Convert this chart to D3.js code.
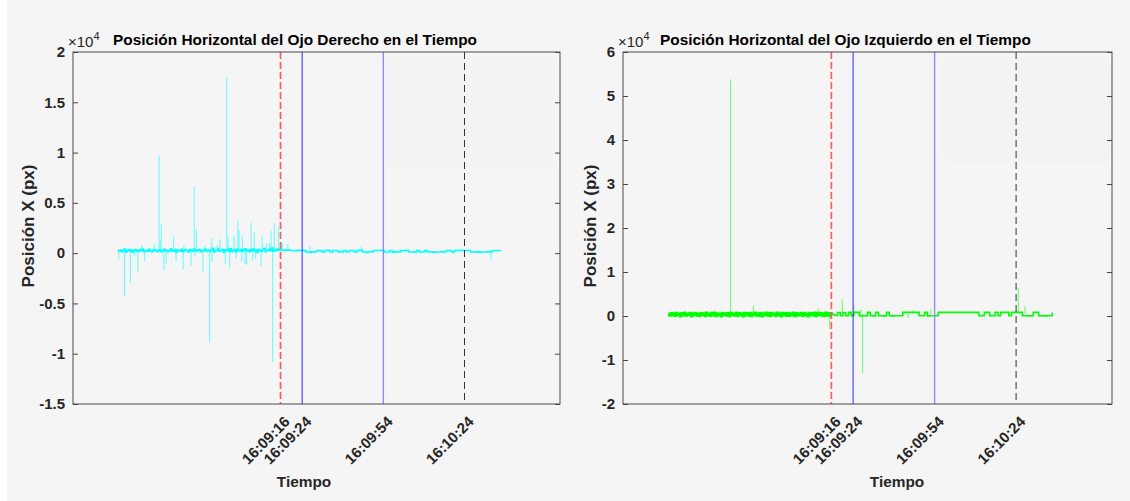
<!DOCTYPE html>
<html><head><meta charset="utf-8">
<script src="https://cdn.jsdelivr.net/npm/d3@7"></script>
<style>body{margin:0;background:#fff}svg{display:block}</style>
</head><body><svg id="c" width="1130" height="501"></svg>
<script>
// ---------- DATA (times in seconds after 16:08:00) ----------
const eventLabels = ["16:09:16", "16:09:24", "16:09:54", "16:10:24"];
const eventTimes = [76.7, 84.7, 114.7, 144.7];

const yTicksDer = [-15000, -10000, -5000, 0, 5000, 10000, 15000, 20000];
const yTickLabelsDer = ["-1.5", "-1", "-0.5", "0", "0.5", "1", "1.5", "2"];
const yTicksIzq = [-20000, -10000, 0, 10000, 20000, 30000, 40000, 50000, 60000];
const yTickLabelsIzq = ["-2", "-1", "0", "1", "2", "3", "4", "5", "6"];

// Right eye (cyan): dense band before the first event, sampled every 0.5 s from 16.5 s
const derPreStart = 16.5, derPreStep = 0.5;
const derPre = [
 260,180,320,150,290,400,120,270,340,200,
 310,90,280,360,230,170,330,260,410,140,
 250,300,190,380,220,110,290,350,240,170,
 320,280,130,260,390,210,300,160,270,440,
 180,230,350,100,310,270,200,380,150,290,
 330,240,120,360,260,190,420,280,170,300,
 350,140,270,230,390,200,310,260,160,340,
 480,120,300,250,410,180,270,350,90,320,
 240,380,200,450,150,290,330,110,400,260,
 210,370,170,300,440,230,280,130,360,250,
 420,190,310,80,390,270,200,350,460,150,
 300,260,380,220,500,180,330,270,410,300,
 350,280];
// after, sampled every 1 s from 78 s
const derPostStart = 78, derPostStep = 1;
const derPost = [
 300,330,260,270,250,280,260,270,120,100,130,110,270,260,110,270,280,120,260,270,
 110,130,270,120,260,270,110,260,280,120,100,130,110,270,260,270,280,120,110,270,
 100,130,110,260,270,280,120,110,130,260,110,120,270,110,130,100,120,110,130,120,
 270,260,110,270,260,280,270,260,270,120,110,130,100,120,110,130,120,270,260,270,280];
// spikes (time s, value px)
const derSpikeT = [16.9,19.0,21.2,22.7,24.0,25.4,26.5,30.0,31.8,32.2,32.6,33.6,34.4,37.2,38.1,40.7,41.0,43.6,
  44.8,45.1,45.6,48.0,48.8,50.5,51.3,51.4,53.3,54.3,56.3,56.8,57.3,57.9,59.5,60.3,60.9,61.4,62.4,62.6,63.6,
  64.2,65.8,66.4,67.0,67.5,69.5,69.9,71.4,72.6,73.2,73.8,74.4,75.9,76.9,77.4,79.4,87.6,106.7,154.5];
const derSpikeV = [-630,-4270,-2950,-370,-1860,800,-800,960,9670,1200,2880,-1690,-1030,1690,-830,-1620,730,-1290,
  6630,-370,2350,-1960,700,-8920,1490,-860,770,1390,-1090,17460,1690,-1490,1790,-530,3250,2290,-860,1720,-1090,
  -1160,3010,-700,2020,-560,-1290,1620,960,1020,2220,-10800,2950,2620,1120,1020,900,700,630,-760];
const derRef = 260;

// Left eye (green)
const izqPreStart = 16.5, izqPreStep = 0.5;
const izqPre = [
 420,80,650,150,560,20,700,250,480,-50,
 620,180,750,100,520,300,690,-80,560,230,
 710,120,480,40,660,280,590,-20,740,160,
 530,60,680,210,770,0,600,140,450,-60,
 720,260,580,90,650,-30,700,190,520,110,
 760,30,610,240,540,-70,690,170,630,80,
 710,-10,560,220,740,130,600,50,680,-40,
 570,200,730,100,640,10,700,260,520,60,
 750,150,590,-50,680,230,620,70,710,20,
 560,190,740,-20,650,110,600,270,690,40,
 720,160,530,-60,700,210,640,90,760,0,
 610,250,680,120,570,-30,730,180,660,70,
 600,300];
const izqPostStart = 78, izqPostStep = 1;
const izqPost = [
 100,780,60,800,40,820,80,820,820,30,60,40,820,50,30,820,40,60,30,820,
 50,30,60,40,50,820,820,820,830,820,820,40,60,820,30,50,40,60,820,820,
 830,820,820,820,830,820,820,820,830,820,820,820,820,40,60,820,820,50,40,820,
 50,820,820,820,60,820,820,820,820,40,60,30,50,820,820,40,60,30,50,40,820];
const izqSpikeT = [39.6,48.0,71.9,76.1,80.7,85.0,87.5,88.2,105.0,106.9,113.3,145.5,148.0];
const izqSpikeV = [53800,2340,1750,-3020,3800,2340,1520,-13000,-520,1360,1590,6430,2270];
const izqRef = 500;

// ---------- DRAWING ----------
const svg = d3.select("#c");
const BG = "#f5f5f5";
svg.append("rect").attr("x", 7).attr("y", 0).attr("width", 1123).attr("height", 501).attr("fill", BG);

const base = new Date(2000, 0, 1, 16, 8, 0).getTime();
const toDate = s => new Date(base + s * 1000);

const panels = [
  {x0: 73, x1: 560, yDom: [-15000, 20000], ticks: yTicksDer, tickLabels: yTickLabelsDer,
   pre: derPre, preStart: derPreStart, preStep: derPreStep, post: derPost, postStart: derPostStart, postStep: derPostStep,
   spT: derSpikeT, spV: derSpikeV, ref: derRef, color: "#00ffff", preW: 1.5, postW: 1.6,
   title: "Posición Horizontal del Ojo Derecho en el Tiempo", titleX: 113, expX: 68, ylabX: 28, xlabX: 304,
   legend: [383, 55, 172, 112]},
  {x0: 623, x1: 1112, yDom: [-20000, 60000], ticks: yTicksIzq, tickLabels: yTickLabelsIzq,
   pre: izqPre, preStart: izqPreStart, preStep: izqPreStep, post: izqPost, postStart: izqPostStart, postStep: izqPostStep,
   spT: izqSpikeT, spV: izqSpikeV, ref: izqRef, color: "#00ff00", preW: 2.4, postW: 1.6,
   title: "Posición Horizontal del Ojo Izquierdo en el Tiempo", titleX: 660, expX: 618, ylabX: 590, xlabX: 897,
   legend: [940, 57, 172, 106]}
];
const yTop = 52, yBot = 404;
const lineStyles = [
  {stroke: "#ff5b5b", w: 1.7, dash: "7,3"},
  {stroke: "#2a2aff", w: 1, dash: null},
  {stroke: "#8c8cff", w: 1.4, dash: null},
  {stroke: "#333333", w: 1, dash: "7,4"}
];
const FONT = "'Liberation Sans', Arial, Helvetica, sans-serif";

panels.forEach((p, pi) => {
  const x = d3.scaleTime().domain([toDate(0), toDate(180)]).range([p.x0, p.x1]);
  const y = d3.scaleLinear().domain(p.yDom).range([yBot, yTop]);
  const g = svg.append("g");

  // faint legend remnant
  g.append("rect").attr("x", p.legend[0]).attr("y", p.legend[1]).attr("width", p.legend[2]).attr("height", p.legend[3])
    .attr("rx", 14).attr("fill", "#f3f3f3");

  const clipId = "clip" + pi;
  svg.append("clipPath").attr("id", clipId).append("rect")
    .attr("x", p.x0).attr("y", yTop).attr("width", p.x1 - p.x0).attr("height", yBot - yTop);
  const plot = g.append("g").attr("clip-path", `url(#${clipId})`);

  // series
  const prePts = p.pre.map((v, i) => [p.preStart + i * p.preStep, v]);
  const postPts = [prePts[prePts.length - 1]].concat(p.post.map((v, i) => [p.postStart + i * p.postStep, v]));
  const line = d3.line().x(d => x(toDate(d[0]))).y(d => y(d[1]));
  const stepLine = d3.line().curve(d3.curveStepAfter).x(d => x(toDate(d[0]))).y(d => y(d[1]));
  plot.append("path").datum(prePts).attr("d", stepLine).attr("fill", "none")
    .attr("stroke", p.color).attr("stroke-width", p.preW);
  plot.append("path").datum(postPts).attr("d", stepLine).attr("fill", "none")
    .attr("stroke", p.color).attr("stroke-width", p.postW);
  plot.selectAll("path.sp").data(p.spT.map((t, i) => [[t, p.ref], [t, p.spV[i]]])).join("path")
    .attr("class", "sp").attr("d", line).attr("fill", "none")
    .attr("stroke", p.color).attr("stroke-width", 1.1).attr("stroke-opacity", 0.55);

  // event lines
  eventTimes.forEach((t, i) => {
    const s = lineStyles[i];
    plot.append("line").attr("x1", x(toDate(t))).attr("x2", x(toDate(t))).attr("y1", yTop).attr("y2", yBot)
      .attr("stroke", s.stroke).attr("stroke-width", s.w).attr("stroke-dasharray", s.dash);
  });

  // axes
  const yl = g.append("g").attr("transform", `translate(${p.x0},0)`)
    .call(d3.axisLeft(y).tickValues(p.ticks).tickFormat((d, i) => p.tickLabels[i]).tickSize(-5).tickPadding(8));
  const yr = g.append("g").attr("transform", `translate(${p.x1},0)`)
    .call(d3.axisRight(y).tickValues(p.ticks).tickFormat("").tickSize(-5));
  [yl, yr].forEach(a => {
    a.select(".domain").remove();
    a.selectAll(".tick line").attr("stroke", "#444");
  });
  yl.selectAll(".tick text").attr("font-family", FONT).attr("font-weight", "bold")
    .attr("font-size", 15).attr("fill", "#262626");

  const xa = g.append("g").attr("transform", `translate(0,${yBot})`)
    .call(d3.axisBottom(x).tickValues(eventTimes.map(toDate)).tickFormat((d, i) => eventLabels[i]).tickSize(0).tickPadding(0));
  xa.select(".domain").remove();
  xa.selectAll(".tick text").attr("font-family", FONT).attr("font-weight", "bold").attr("font-size", 15)
    .attr("fill", "#262626").attr("text-anchor", "end").attr("dy", "0.35em")
    .attr("transform", "translate(6,15) rotate(-45)");

  // box
  g.append("rect").attr("x", p.x0).attr("y", yTop).attr("width", p.x1 - p.x0).attr("height", yBot - yTop)
    .attr("fill", "none").attr("stroke", "#4a4a4a").attr("stroke-width", 1);

  // title
  g.append("text").attr("x", p.titleX).attr("y", 45).attr("font-family", FONT).attr("font-weight", "bold")
    .attr("font-size", 15.4).attr("fill", "#000").text(p.title);
  // exponent
  const ex = g.append("text").attr("x", p.expX).attr("y", 47).attr("font-family", FONT)
    .attr("font-size", 15).attr("fill", "#262626");
  ex.append("tspan").text("×10");
  ex.append("tspan").attr("dy", -7).attr("font-size", 11).text("4");
  // y label
  g.append("text").attr("transform", `translate(${p.ylabX + 6},226) rotate(-90)`).attr("text-anchor", "middle")
    .attr("font-family", FONT).attr("font-weight", "bold").attr("font-size", 17).attr("fill", "#262626")
    .text("Posición X (px)");
  // x label
  g.append("text").attr("x", p.xlabX).attr("y", 487).attr("text-anchor", "middle")
    .attr("font-family", FONT).attr("font-weight", "bold").attr("font-size", 15.4).attr("fill", "#262626")
    .text("Tiempo");
});
</script></body></html>
